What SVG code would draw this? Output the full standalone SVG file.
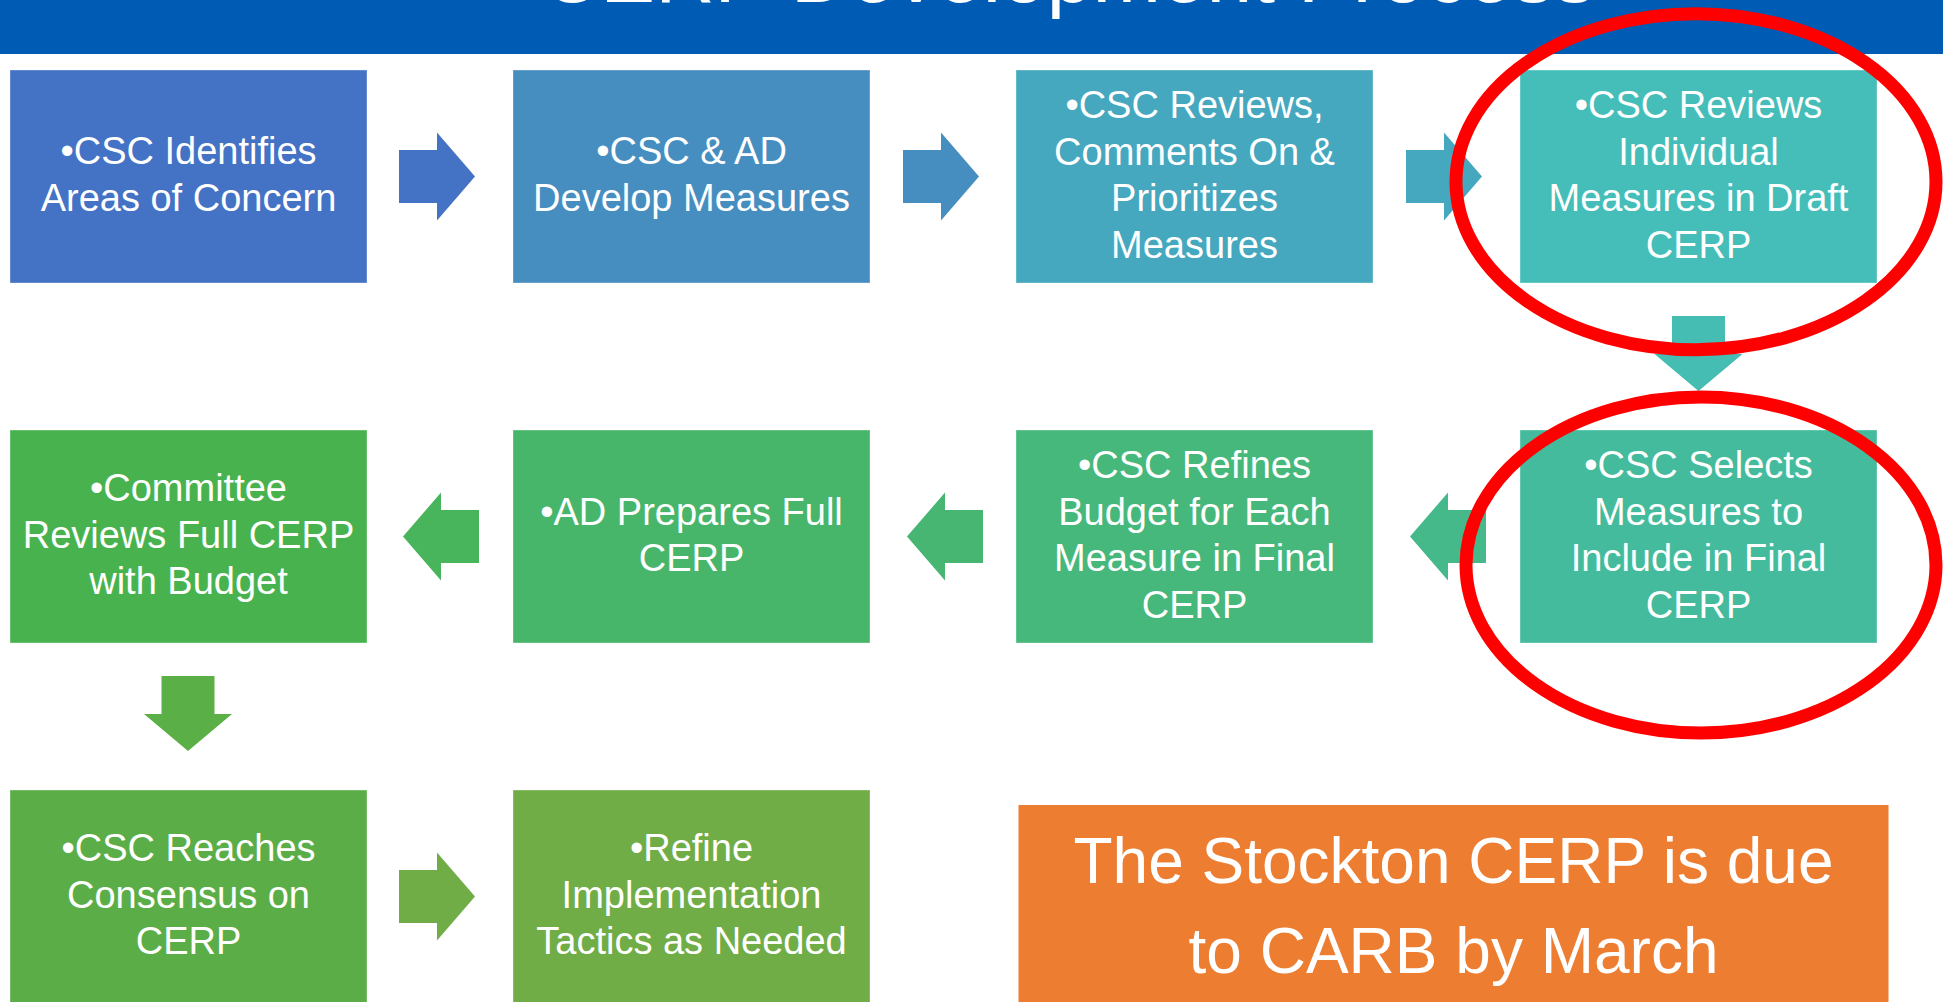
<svg xmlns="http://www.w3.org/2000/svg" xmlns:xlink="http://www.w3.org/1999/xlink" width="1943" height="1002" viewBox="0 0 1943 1002">
<style>
  .box { stroke: #ffffff; stroke-opacity: 0.35; stroke-width: 1; }
  .lbl { font-family: "Liberation Sans", Arial, sans-serif; font-size: 38px; fill: #ffffff; text-anchor: middle; }
  .big { font-family: "Liberation Sans", Arial, sans-serif; font-size: 64px; fill: #ffffff; text-anchor: middle; }
  .title { font-family: "Liberation Sans", Arial, sans-serif; font-size: 82px; fill: #ffffff; }
  .ring { fill: none; stroke: #FF0000; stroke-width: 13; }
</style>
<defs>
  <path id="arrowR" d="M0,-26.5 H38 V-44 L76,0 L38,44 V26.5 H0 Z"/>
  <path id="arrowL" d="M0,0 L38,-44 V-26.5 H76 V26.5 H38 V44 Z"/>
  <path id="arrowD" d="M-26.5,0 H26.5 V38 H44 L0,75 L-44,38 H-26.5 Z"/>
</defs>
<rect width="1943" height="1002" fill="#ffffff"/>
<g id="header">
  <rect x="0" y="0" width="1943" height="54" fill="#005BB5"/>
  <text class="title" x="541" y="2" textLength="1054" lengthAdjust="spacingAndGlyphs">CERP Development Process</text>
</g>
<g id="n1">
  <rect class="box" x="10" y="70" width="357" height="213" fill="#4472C4"/>
  <text class="lbl"><tspan x="188.5" y="164.4">•CSC Identifies</tspan><tspan x="188.5" y="211.1">Areas of Concern</tspan></text>
</g>
<g id="n2">
  <rect class="box" x="513" y="70" width="357" height="213" fill="#468EC0"/>
  <text class="lbl"><tspan x="691.5" y="164.4">•CSC &amp; AD</tspan><tspan x="691.5" y="211.1">Develop Measures</tspan></text>
</g>
<g id="n3">
  <rect class="box" x="1016" y="70" width="357" height="213" fill="#45A8BF"/>
  <text class="lbl"><tspan x="1194.5" y="118">•CSC Reviews,</tspan><tspan x="1194.5" y="164.6">Comments On &amp;</tspan><tspan x="1194.5" y="211.3">Prioritizes</tspan><tspan x="1194.5" y="258">Measures</tspan></text>
</g>
<g id="n4">
  <rect class="box" x="1520" y="70" width="357" height="213" fill="#45BEB9"/>
  <text class="lbl"><tspan x="1698.5" y="118">•CSC Reviews</tspan><tspan x="1698.5" y="164.6">Individual</tspan><tspan x="1698.5" y="211.3">Measures in Draft</tspan><tspan x="1698.5" y="258">CERP</tspan></text>
</g>
<g id="n5">
  <rect class="box" x="1520" y="430" width="357" height="213" fill="#44BB9C"/>
  <text class="lbl"><tspan x="1698.5" y="478">•CSC Selects</tspan><tspan x="1698.5" y="524.5">Measures to</tspan><tspan x="1698.5" y="571.2">Include in Final</tspan><tspan x="1698.5" y="618">CERP</tspan></text>
</g>
<g id="n6">
  <rect class="box" x="1016" y="430" width="357" height="213" fill="#47B87B"/>
  <text class="lbl"><tspan x="1194.5" y="478">•CSC Refines</tspan><tspan x="1194.5" y="524.5">Budget for Each</tspan><tspan x="1194.5" y="571.2">Measure in Final</tspan><tspan x="1194.5" y="618">CERP</tspan></text>
</g>
<g id="n7">
  <rect class="box" x="513" y="430" width="357" height="213" fill="#48B66A"/>
  <text class="lbl"><tspan x="691.5" y="524.5">•AD Prepares Full</tspan><tspan x="691.5" y="571.2">CERP</tspan></text>
</g>
<g id="n8">
  <rect class="box" x="10" y="430" width="357" height="213" fill="#48B34E"/>
  <text class="lbl"><tspan x="188.5" y="501">•Committee</tspan><tspan x="188.5" y="547.7">Reviews Full CERP</tspan><tspan x="188.5" y="594.4">with Budget</tspan></text>
</g>
<g id="n9">
  <rect class="box" x="10" y="790" width="357" height="213" fill="#5BAE47"/>
  <text class="lbl"><tspan x="188.5" y="861">•CSC Reaches</tspan><tspan x="188.5" y="907.7">Consensus on</tspan><tspan x="188.5" y="954.4">CERP</tspan></text>
</g>
<g id="n10">
  <rect class="box" x="513" y="790" width="357" height="213" fill="#70AD47"/>
  <text class="lbl"><tspan x="691.5" y="861">•Refine</tspan><tspan x="691.5" y="907.7">Implementation</tspan><tspan x="691.5" y="954.4">Tactics as Needed</tspan></text>
</g>
<g id="note">
  <rect x="1018.5" y="805" width="870" height="200" fill="#ED7D31"/>
  <text class="big"><tspan x="1453.5" y="883">The Stockton CERP is due</tspan><tspan x="1453.5" y="973">to CARB by March</tspan></text>
</g>
<g id="connectors">
  <use xlink:href="#arrowR" x="399" y="176.5" fill="#4472C4"/>
  <use xlink:href="#arrowR" x="903" y="176.5" fill="#468EC0"/>
  <use xlink:href="#arrowR" x="1406" y="176.5" fill="#45A8BF"/>
  <use xlink:href="#arrowD" x="1698.5" y="316" fill="#45BDB3"/>
  <use xlink:href="#arrowL" x="1410" y="536.5" fill="#46B98B"/>
  <use xlink:href="#arrowL" x="907" y="536.5" fill="#47B673"/>
  <use xlink:href="#arrowL" x="403" y="536.5" fill="#48B45B"/>
  <use xlink:href="#arrowD" x="188" y="676" fill="#5AAF46"/>
  <use xlink:href="#arrowR" x="399" y="896.5" fill="#70AD47"/>
</g>
<g id="highlights">
  <ellipse class="ring" cx="1696" cy="181.7" rx="240" ry="168"/>
  <ellipse class="ring" cx="1701" cy="565" rx="235" ry="168"/>
</g>
</svg>
